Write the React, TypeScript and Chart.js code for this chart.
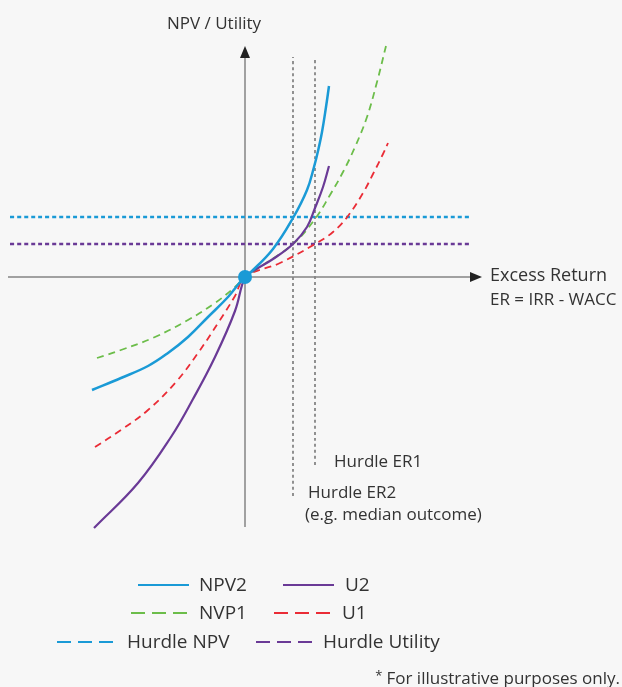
import React, { useEffect, useRef } from "react";
import { Chart, registerables } from "chart.js";

Chart.register(...registerables);

// Conceptual curves (x = excess return, y = NPV / utility)
const npv2X = [-1.53, -1.24, -0.97, -0.77, -0.57, -0.37, -0.17, -0.04, 0, 0.05, 0.28, 0.48, 0.62, 0.69, 0.73, 0.77, 0.81, 0.84];
const npv2Y = [-1.13, -1.01, -0.89, -0.76, -0.60, -0.40, -0.20, -0.04, 0, 0.04, 0.28, 0.59, 0.87, 1.10, 1.26, 1.45, 1.70, 1.91];

const u2X = [-1.51, -1.07, -0.74, -0.52, -0.30, -0.10, 0, 0.08, 0.28, 0.48, 0.62, 0.70, 0.78, 0.84];
const u2Y = [-2.51, -2.06, -1.60, -1.22, -0.80, -0.34, 0, 0.06, 0.18, 0.33, 0.50, 0.69, 0.90, 1.11];

const nvp1X = [-1.48, -1.24, -0.90, -0.57, -0.30, -0.10, 0, 0.15, 0.48, 0.70, 0.85, 0.98, 1.10, 1.22, 1.32, 1.41];
const nvp1Y = [-0.81, -0.73, -0.60, -0.43, -0.26, -0.10, 0, 0.10, 0.33, 0.58, 0.82, 1.05, 1.30, 1.60, 1.95, 2.31];

const u1X = [-1.50, -1.24, -0.97, -0.69, -0.47, -0.27, -0.10, 0, 0.35, 0.70, 0.88, 1.03, 1.18, 1.28, 1.38, 1.43];
const u1Y = [-1.70, -1.53, -1.33, -1.05, -0.76, -0.46, -0.19, 0, 0.14, 0.33, 0.45, 0.61, 0.84, 1.03, 1.23, 1.34];

const hurdleNpv = 0.6;
const hurdleUtility = 0.33;
const hurdleLineX = [-2.35, 2.27];

const hurdleER1 = 0.7;
const hurdleER2 = 0.48;
const er1Y = [-1.88, 2.19];
const er2Y = [-2.19, 2.2];

const legendLabels = ["NPV2", "U2", "NVP1", "U1", "Hurdle NPV", "Hurdle Utility"];

const BLUE = "#1a9ad6";
const PURPLE = "#6a3a96";
const GREEN = "#6cbd4a";
const RED = "#ea2c36";
const GRAY = "#858585";
const TEXT = "#333333";
const FONT = "'Open Sans', sans-serif";

const pts = (xs: number[], ys: number[]) => xs.map((x, i) => ({ x, y: ys[i] }));

const overlay = {
  id: "overlay",
  beforeDatasetsDraw(chart: any) {
    const { ctx, scales } = chart;
    const x0 = scales.x.getPixelForValue(0);
    const y0 = scales.y.getPixelForValue(0);
    ctx.save();
    ctx.strokeStyle = GRAY;
    ctx.lineWidth = 1.5;
    ctx.setLineDash([]);
    ctx.beginPath();
    ctx.moveTo(x0, scales.y.getPixelForValue(-2.5));
    ctx.lineTo(x0, scales.y.getPixelForValue(2.2));
    ctx.stroke();
    ctx.beginPath();
    ctx.moveTo(scales.x.getPixelForValue(-2.37), y0);
    ctx.lineTo(scales.x.getPixelForValue(2.28), y0);
    ctx.stroke();
    ctx.fillStyle = "#222";
    const tipY = scales.y.getPixelForValue(2.31);
    ctx.beginPath();
    ctx.moveTo(x0, tipY);
    ctx.lineTo(x0 - 5, tipY + 12);
    ctx.lineTo(x0 + 5, tipY + 12);
    ctx.closePath();
    ctx.fill();
    const tipX = scales.x.getPixelForValue(2.37);
    ctx.beginPath();
    ctx.moveTo(tipX, y0);
    ctx.lineTo(tipX - 12, y0 - 5);
    ctx.lineTo(tipX - 12, y0 + 5);
    ctx.closePath();
    ctx.fill();
    ctx.restore();
  },
  afterDraw(chart: any) {
    const { ctx } = chart;
    ctx.save();
    ctx.fillStyle = TEXT;
    ctx.textAlign = "left";
    ctx.textBaseline = "alphabetic";
    ctx.font = `17px ${FONT}`;
    ctx.fillText("NPV / Utility", 167, 29);
    ctx.font = `18px ${FONT}`;
    ctx.fillText("Excess Return", 490, 281);
    ctx.font = `17px ${FONT}`;
    ctx.fillText("ER = IRR - WACC", 490, 305);
    ctx.fillText("Hurdle ER1", 334, 467);
    ctx.fillText("Hurdle ER2", 308, 498);
    ctx.fillText("(e.g. median outcome)", 305, 520);

    const items = [
      { label: legendLabels[0], color: BLUE, dash: [], x1: 138, x2: 189, tx: 199, y: 585 },
      { label: legendLabels[1], color: PURPLE, dash: [], x1: 283, x2: 334, tx: 345, y: 585 },
      { label: legendLabels[2], color: GREEN, dash: [14, 7], x1: 131, x2: 188, tx: 199, y: 613 },
      { label: legendLabels[3], color: RED, dash: [14, 7], x1: 274, x2: 332, tx: 342, y: 613 },
      { label: legendLabels[4], color: BLUE, dash: [14, 7], x1: 57, x2: 114, tx: 127, y: 642 },
      { label: legendLabels[5], color: PURPLE, dash: [14, 7], x1: 256, x2: 313, tx: 323, y: 642 },
    ];
    ctx.font = `19px ${FONT}`;
    for (const it of items) {
      ctx.strokeStyle = it.color;
      ctx.lineWidth = 2;
      ctx.setLineDash(it.dash);
      ctx.beginPath();
      ctx.moveTo(it.x1, it.y);
      ctx.lineTo(it.x2, it.y);
      ctx.stroke();
      ctx.fillStyle = TEXT;
      ctx.fillText(it.label, it.tx, it.y + 6);
    }
    ctx.setLineDash([]);
    ctx.textAlign = "right";
    ctx.font = `17px ${FONT}`;
    ctx.fillText("For illustrative purposes only.", 620, 684);
    const w = ctx.measureText("For illustrative purposes only.").width;
    ctx.font = `13px ${FONT}`;
    ctx.fillText("*", 620 - w - 4, 680);
    ctx.restore();
  },
};

export default function App() {
  const ref = useRef<HTMLCanvasElement>(null);
  useEffect(() => {
    document.body.style.background = "#f7f7f7";
    const line = (label: string, data: any[], color: string, width: number, dash: number[]) => ({
      label,
      data,
      borderColor: color,
      backgroundColor: color,
      borderWidth: width,
      borderDash: dash,
      pointRadius: 0,
      fill: false,
      tension: 0.4,
    });
    const chart = new Chart(ref.current!, {
      type: "line",
      data: {
        datasets: [
          {
            label: "Origin",
            data: [{ x: 0, y: 0 }],
            borderColor: BLUE,
            backgroundColor: BLUE,
            pointRadius: 7,
            pointBorderWidth: 0,
            showLine: false,
          } as any,
          line("NPV2", pts(npv2X, npv2Y), BLUE, 2.5, []),
          line("U2", pts(u2X, u2Y), PURPLE, 2.2, []),
          line("NVP1", pts(nvp1X, nvp1Y), GREEN, 1.8, [7, 5]),
          line("U1", pts(u1X, u1Y), RED, 1.8, [7, 5]),
          line("Hurdle NPV", pts(hurdleLineX, [hurdleNpv, hurdleNpv]), BLUE, 2.5, [4, 3]),
          line("Hurdle Utility", pts(hurdleLineX, [hurdleUtility, hurdleUtility]), PURPLE, 2.5, [4, 3]),
          line("Hurdle ER1", pts([hurdleER1, hurdleER1], er1Y), GRAY, 1.8, [3, 3]),
          line("Hurdle ER2", pts([hurdleER2, hurdleER2], er2Y), GRAY, 1.8, [3, 3]),
        ],
      },
      options: {
        responsive: false,
        animation: false,
        parsing: false as any,
        layout: { padding: { left: 8, right: 140, top: 45, bottom: 158 } },
        scales: {
          x: { type: "linear", min: -2.37, max: 2.37, display: false },
          y: { type: "linear", min: -2.52, max: 2.32, display: false },
        },
        plugins: { legend: { display: false }, tooltip: { enabled: false } },
      },
      plugins: [overlay],
    });
    return () => chart.destroy();
  }, []);
  return (
    <div style={{ position: "absolute", left: 0, top: 0, width: 622, height: 687, background: "#f7f7f7" }}>
      <canvas ref={ref} width={622} height={687} style={{ width: 622, height: 687, display: "block" }} />
    </div>
  );
}
